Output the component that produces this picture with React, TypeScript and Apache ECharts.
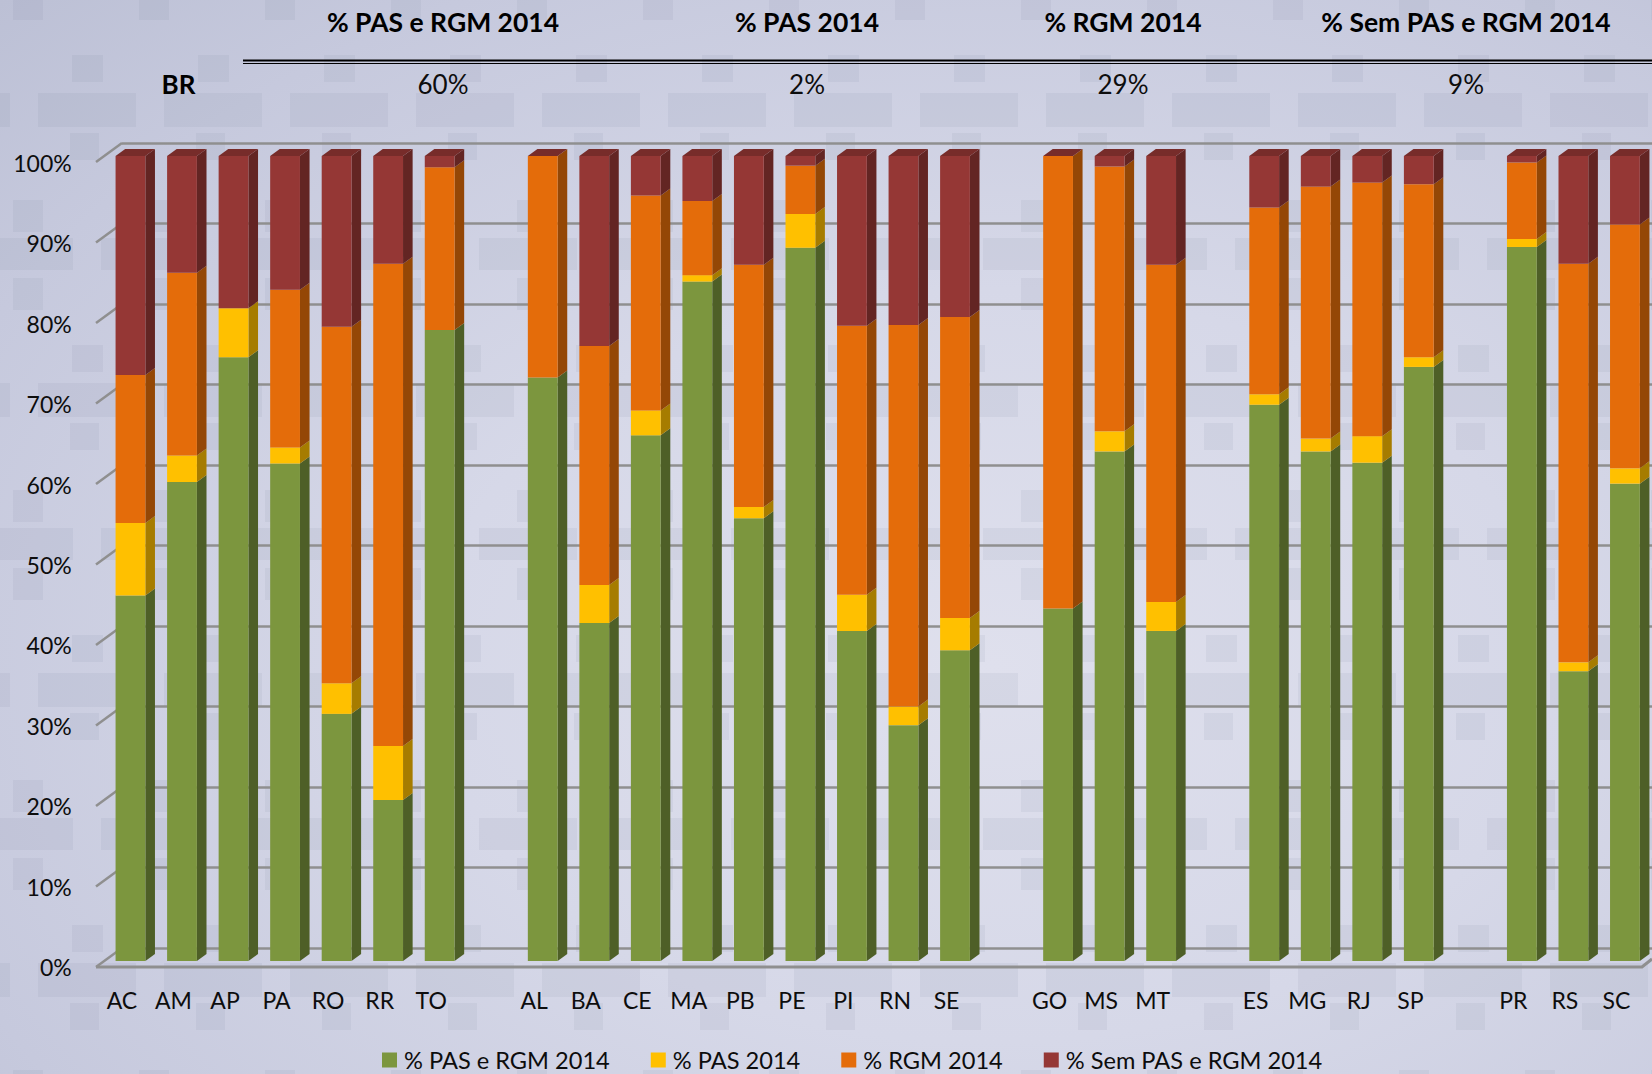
import React, { useEffect, useRef } from "react";
import * as echarts from "echarts";

const categories = ["AC","AM","AP","PA","RO","RR","TO","","AL","BA","CE","MA","PB","PE","PI","RN","SE"," ","GO","MS","MT","  ","ES","MG","RJ","SP","   ","PR","RS","SC"];
const pasRgm = [45.4,59.5,75,61.8,30.7,20,78.4,null,72.5,42,65.3,84.4,55,88.6,41,29.3,38.6,null,43.8,63.3,41,null,69.1,63.3,61.9,73.8,null,88.7,36,59.3];
const pas =    [9,3.3,6.1,2,3.8,6.7,0,null,0,4.7,3.1,0.8,1.4,4.2,4.5,2.3,4,null,0,2.5,3.6,null,1.3,1.6,3.3,1.2,null,1,1.1,1.9];
const rgm =    [18.4,22.7,0,19.6,44.3,59.9,20.2,null,27.5,29.7,26.7,9.2,30.1,6,33.4,47.4,37.4,null,56.2,32.9,41.9,null,23.2,31.3,31.5,21.5,null,9.5,49.5,30.3];
const sem =    [27.2,14.5,18.9,16.6,21.2,13.4,1.4,null,0,23.6,4.9,5.6,13.5,1.2,21.1,21,20,null,0,1.3,13.5,null,6.4,3.8,3.3,3.5,null,0.8,13.4,8.5];
const seriesNames = ["% PAS e RGM 2014","% PAS 2014","% RGM 2014","% Sem PAS e RGM 2014"];
const seriesValues = [pasRgm, pas, rgm, sem];
const frontColors = ["#7c963e","#ffc000","#e46c0a","#953735"];
const sideColors = ["#4e5f27","#a67c00","#944706","#632523"];
const topColor = "#772c2a";
const valueTicks = [0,10,20,30,40,50,60,70,80,90,100];
const groupHeaders = [
  { title: "% PAS e RGM 2014", value: "60%", x: 443 },
  { title: "% PAS 2014", value: "2%", x: 807 },
  { title: "% RGM 2014", value: "29%", x: 1123 },
  { title: "% Sem PAS e RGM 2014", value: "9%", x: 1466 },
];

const FONT = "Lato, 'Open Sans', sans-serif";
const BAR_W = 29.8, DX = 9.6, DY = 7;
const WALL_DX = 26, WALL_DY = 20;

const tileSvg = `<svg xmlns='http://www.w3.org/2000/svg' width='126' height='290'><g fill='#6f7490' fill-opacity='0.085'><rect x='72' y='55' width='31' height='27'/><rect x='38' y='93' width='98' height='34'/><rect x='-88' y='93' width='98' height='34'/><rect x='70' y='133' width='29' height='27'/><rect x='13' y='200' width='30' height='32'/><rect x='-25' y='238' width='98' height='32'/><rect x='101' y='238' width='98' height='32'/><rect x='13' y='278' width='30' height='32'/><rect x='13' y='-12' width='30' height='32'/></g></svg>`;

function App() {
  const ref = useRef<HTMLDivElement>(null);
  useEffect(() => {
    const chart = echarts.init(ref.current!, null, { renderer: "svg" });

    const sideSeries = seriesValues.map((vals, si) => ({
      type: "custom",
      name: "side" + si,
      xAxisIndex: 0,
      yAxisIndex: 0,
      silent: true,
      z: 3,
      data: categories.map((_, i) => {
        if (vals[i] == null) return [i, 0, 0];
        let start = 0;
        for (let k = 0; k < si; k++) start += (seriesValues[k][i] as number) || 0;
        return [i, start, start + (vals[i] as number)];
      }),
      renderItem: (_p: any, api: any) => {
        const a = api.value(1), b = api.value(2);
        if (b <= a) return { type: "group", children: [] };
        const pb = api.coord([api.value(0), a]);
        const pt = api.coord([api.value(0), b]);
        const xr = pb[0] + BAR_W / 2;
        return {
          type: "polygon",
          shape: { points: [[xr, pb[1]], [xr + DX, pb[1] - DY], [xr + DX, pt[1] - DY], [xr, pt[1]]] },
          style: { fill: sideColors[si] },
        };
      },
    }));

    const topSeries = {
      type: "custom",
      name: "top",
      xAxisIndex: 0,
      yAxisIndex: 0,
      silent: true,
      z: 4,
      data: categories.map((_, i) => [i, pasRgm[i] == null ? 0 : 100]),
      renderItem: (_p: any, api: any) => {
        if (!api.value(1)) return { type: "group", children: [] };
        const p = api.coord([api.value(0), api.value(1)]);
        const l = p[0] - BAR_W / 2, r = p[0] + BAR_W / 2;
        return {
          type: "polygon",
          shape: { points: [[l, p[1]], [r, p[1]], [r + DX, p[1] - DY], [l + DX, p[1] - DY]] },
          style: { fill: topColor },
        };
      },
    };

    const stubSeries = {
      type: "custom",
      name: "stubs",
      xAxisIndex: 1,
      yAxisIndex: 1,
      silent: true,
      z: 1,
      data: valueTicks.map((v) => [0, v]),
      renderItem: (_p: any, api: any) => {
        const p = api.coord([0, api.value(1)]);
        return {
          type: "line",
          shape: { x1: p[0], y1: p[1], x2: p[0] - WALL_DX, y2: p[1] + WALL_DY - 1 },
          style: { stroke: "#8f8f8f", lineWidth: 2.5 },
        };
      },
    };

    const floorSeries = {
      type: "custom",
      name: "floor",
      xAxisIndex: 1,
      yAxisIndex: 1,
      silent: true,
      z: 1,
      data: [[1, 0]],
      renderItem: (_p: any, api: any) => {
        const p = api.coord([1, 0]);
        const y = p[1] + WALL_DY - 1;
        return {
          type: "polyline",
          shape: { points: [[96, y], [p[0] - 10, y], [p[0], y - 8]] },
          style: { stroke: "#8f8f8f", lineWidth: 3, fill: "none" },
        };
      },
    };

    const barSeries = seriesNames.map((name, si) => ({
      type: "bar",
      name,
      stack: "total",
      xAxisIndex: 0,
      yAxisIndex: 0,
      barWidth: BAR_W,
      z: 5,
      itemStyle: { color: frontColors[si] },
      data: seriesValues[si],
    }));

    chart.setOption({
      animation: false,
      backgroundColor: "transparent",
      textStyle: { fontFamily: FONT, color: "#111" },
      grid: [
        { left: 104.7, top: 156, width: 1546, height: 805, containLabel: false },
        { left: 122, top: 143, width: 1530, height: 805, containLabel: false },
        { left: 104.7, top: 163, width: 1546, height: 804, containLabel: false },
      ],
      xAxis: [
        {
          type: "category",
          gridIndex: 0,
          data: categories,
          axisLine: { show: false },
          axisTick: { show: false },
          axisLabel: {
            interval: 0,
            fontFamily: FONT,
            fontSize: 23,
            color: "#0d0d0d",
            margin: 27,
            padding: [0, 17, 0, 0],
          },
        },
        { type: "value", gridIndex: 1, min: 0, max: 1, show: false },
        { type: "value", gridIndex: 2, min: 0, max: 1, show: false },
      ],
      yAxis: [
        {
          type: "value",
          gridIndex: 0,
          min: 0,
          max: 100,
          interval: 10,
          axisLine: { show: false },
          axisTick: { show: false },
          splitLine: { show: false },
          axisLabel: { show: false },
        },
        {
          type: "value",
          gridIndex: 1,
          min: 0,
          max: 100,
          interval: 10,
          axisLine: { show: false },
          axisTick: { show: false },
          axisLabel: { show: false },
          splitLine: { show: true, lineStyle: { color: "#8f8f8f", width: 2.5 } },
        },
        {
          type: "value",
          gridIndex: 2,
          min: 0,
          max: 100,
          interval: 10,
          axisLine: { show: false },
          axisTick: { show: false },
          splitLine: { show: false },
          axisLabel: {
            fontFamily: FONT,
            fontSize: 23,
            color: "#0d0d0d",
            margin: 33,
            formatter: "{value}%",
          },
        },
      ],
      legend: {
        left: 382,
        top: 1048,
        padding: 0,
        itemWidth: 15,
        itemHeight: 15,
        itemGap: 41,
        icon: "rect",
        data: seriesNames,
        textStyle: { fontFamily: FONT, fontSize: 23.6, lineHeight: 22, height: 22, color: "#0d0d0d", padding: [0, 0, 0, 2] },
      },
      graphic: [
        ...groupHeaders.flatMap((h) => [
          { type: "text", x: h.x, y: 22, style: { text: h.title, font: `bold 26.5px ${FONT}`, fill: "#000", textAlign: "center", textVerticalAlign: "middle" } },
          { type: "text", x: h.x, y: 84, style: { text: h.value, font: `26px ${FONT}`, fill: "#0d0d0d", textAlign: "center", textVerticalAlign: "middle" } },
        ]),
        { type: "text", x: 178.5, y: 84, style: { text: "BR", font: `bold 26px ${FONT}`, fill: "#000", textAlign: "center", textVerticalAlign: "middle" } },
        { type: "line", shape: { x1: 243, y1: 60.5, x2: 1652, y2: 60.5 }, style: { stroke: "#000", lineWidth: 2 } },
        { type: "line", shape: { x1: 243, y1: 63.5, x2: 1652, y2: 63.5 }, style: { stroke: "#000", lineWidth: 1 } },
      ],
      series: [floorSeries, stubSeries, ...sideSeries, topSeries, ...barSeries],
    });
    return () => chart.dispose();
  }, []);

  const bg = [
    `url("data:image/svg+xml,${encodeURIComponent(tileSvg)}")`,
    "radial-gradient(ellipse at 60% 62%, #dfe0ed 0%, #d6d8e8 40%, #c6c9dd 80%, #bcc0d5 100%)",
  ].join(",");

  return (
    <div
      ref={ref}
      style={{ position: "absolute", left: 0, top: 0, width: 1652, height: 1074, overflow: "hidden", backgroundImage: bg }}
    />
  );
}

export default App;
